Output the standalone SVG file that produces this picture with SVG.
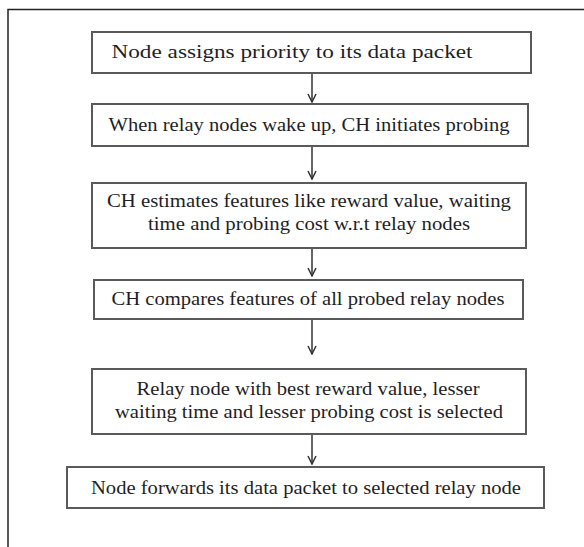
<svg xmlns="http://www.w3.org/2000/svg" width="584" height="547" viewBox="0 0 584 547">
<defs>
<style>
.box{fill:#fff;stroke:#5a5a5a;stroke-width:2}
.t{font-family:"Liberation Serif","Times New Roman",serif;font-size:18.5px;fill:#1e1e26;text-anchor:middle}
.c{stroke:#333;stroke-width:1.5;fill:none}
</style>
<marker id="ah" viewBox="0 0 10 10" refX="9" refY="5" markerWidth="10" markerHeight="10" markerUnits="userSpaceOnUse" orient="auto">
<path d="M1,1 L9,5 L1,9" fill="none" stroke="#333" stroke-width="1.5"/>
</marker>
</defs>
<rect width="584" height="547" fill="#fff"/>
<path d="M8,547 V9.5 H584" fill="none" stroke="#222" stroke-width="1.5"/>
<g id="connectors">
<line class="c" x1="312" y1="73" x2="312" y2="102" marker-end="url(#ah)"/>
<line class="c" x1="312" y1="146" x2="312" y2="179" marker-end="url(#ah)"/>
<line class="c" x1="312" y1="248" x2="312" y2="276" marker-end="url(#ah)"/>
<line class="c" x1="312" y1="319" x2="312" y2="354" marker-end="url(#ah)"/>
<line class="c" x1="312" y1="434" x2="312" y2="464" marker-end="url(#ah)"/>
</g>
<g id="n1">
<rect class="box" x="92" y="32" width="439" height="41"/>
<text class="t" x="292" y="58" textLength="361" lengthAdjust="spacingAndGlyphs">Node assigns priority to its data packet</text>
</g>
<g id="n2">
<rect class="box" x="92" y="104" width="436" height="42"/>
<text class="t" x="309" y="131" textLength="401" lengthAdjust="spacingAndGlyphs">When relay nodes wake up, CH initiates probing</text>
</g>
<g id="n3">
<rect class="box" x="92" y="183" width="434" height="65"/>
<text class="t" x="309" y="207" textLength="404" lengthAdjust="spacingAndGlyphs">CH estimates features like reward value, waiting</text>
<text class="t" x="309" y="230" textLength="322" lengthAdjust="spacingAndGlyphs">time and probing cost w.r.t relay nodes</text>
</g>
<g id="n4">
<rect class="box" x="94" y="280" width="429" height="39"/>
<text class="t" x="308" y="305" textLength="393" lengthAdjust="spacingAndGlyphs">CH compares features of all probed relay nodes</text>
</g>
<g id="n5">
<rect class="box" x="92" y="369" width="434" height="65"/>
<text class="t" x="308" y="395" textLength="343" lengthAdjust="spacingAndGlyphs">Relay node with best reward value, lesser</text>
<text class="t" x="309" y="418" textLength="388" lengthAdjust="spacingAndGlyphs">waiting time and lesser probing cost is selected</text>
</g>
<g id="n6">
<rect class="box" x="67" y="467" width="477" height="41"/>
<text class="t" x="306" y="494" textLength="430" lengthAdjust="spacingAndGlyphs">Node forwards its data packet to selected relay node</text>
</g>
</svg>
